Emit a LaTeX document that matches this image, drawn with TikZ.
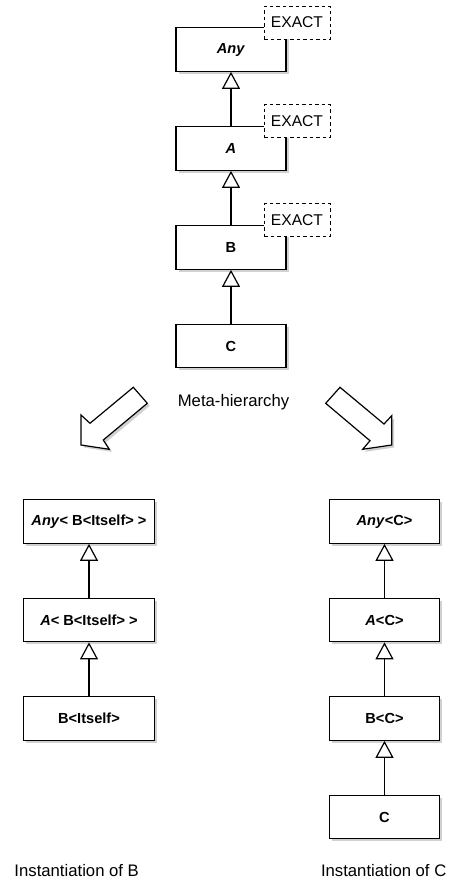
\documentclass[tikz,border=0pt]{standalone}
\usepackage{fontspec}
\setmainfont{Liberation Sans}
\usetikzlibrary{arrows.meta,shadows}
\begin{document}
\begin{tikzpicture}[x=1pt,y=-1pt,
  shd/.style={drop shadow={shadow xshift=2.5pt,shadow yshift=-2.5pt,fill=black,opacity=0.18}},
  cls/.style={draw,line width=1.2pt,fill=white,shd,minimum height=43.5pt,inner sep=0pt,
    font=\fontsize{14.6}{17}\selectfont\bfseries},
  clsm/.style={cls,minimum width=110pt},
  clsw/.style={cls,minimum width=131pt},
  exact/.style={draw,dashed,dash pattern=on 3.5pt off 3pt,line width=1pt,fill=white,
    minimum width=66pt,minimum height=33pt,inner sep=0pt,font=\fontsize{15.6}{18}\selectfont},
  inh/.style={line width=1.2pt,-{Triangle[open,length=17pt,width=18pt,line width=1.2pt]}},
  lbl/.style={font=\fontsize{16.7}{19}\selectfont,inner sep=0pt,anchor=base},
  bigarrow/.style={draw,line width=1.2pt,fill=white,line join=miter,shd}]
\useasboundingbox (0,0) rectangle (449,881);

% meta-hierarchy
\node[clsm] (any) at (231,49.5) {\textit{Any}};
\node[clsm] (a) at (231,148.5) {\textit{A}};
\node[clsm] (b) at (231,247.5) {B};
\node[clsm] (c) at (231,346) {C};
\node[exact] (e1) at (297,22.5) {EXACT};
\node[exact] (e2) at (297,121) {EXACT};
\node[exact] (e3) at (297,220) {EXACT};
\draw[inh] (a.north) -- (any.south);
\draw[inh] (b.north) -- (a.south);
\draw[inh] (c.north) -- (b.south);
\node[lbl] (meta) at (233.5,406) {Meta-hierarchy};

% big arrows
\draw[bigarrow] (133.3,387.3) -- (147.3,403.3) -- (103.3,440) -- (109.3,449.3)
  -- (81,445) -- (81,415) -- (90,423.3) -- cycle;
\draw[bigarrow] (340,387.3) -- (325.7,403.3) -- (370,440.7) -- (362.7,449.3)
  -- (391.7,445) -- (391.7,415.7) -- (384,424) -- cycle;

% instantiation of B
\node[clsw] (lany) at (89,521.5) {\textit{Any}< B<Itself> >};
\node[clsw] (la) at (89,620) {\textit{A}< B<Itself> >};
\node[clsw] (lb) at (89,718.5) {B<Itself>};
\draw[inh] (la.north) -- (lany.south);
\draw[inh] (lb.north) -- (la.south);
\node[lbl] (ib) at (76.7,876.7) {Instantiation of B};

% instantiation of C
\node[clsm] (rany) at (384.5,521.5) {\textit{Any}<C>};
\node[clsm] (ra) at (384.5,620) {\textit{A}<C>};
\node[clsm] (rb) at (384.5,718.5) {B<C>};
\node[clsm] (rc) at (384.5,817) {C};
\draw[inh] (ra.north) -- (rany.south);
\draw[inh] (rb.north) -- (ra.south);
\draw[inh] (rc.north) -- (rb.south);
\node[lbl] (ic) at (383.7,876.7) {Instantiation of C};
\end{tikzpicture}
\end{document}
